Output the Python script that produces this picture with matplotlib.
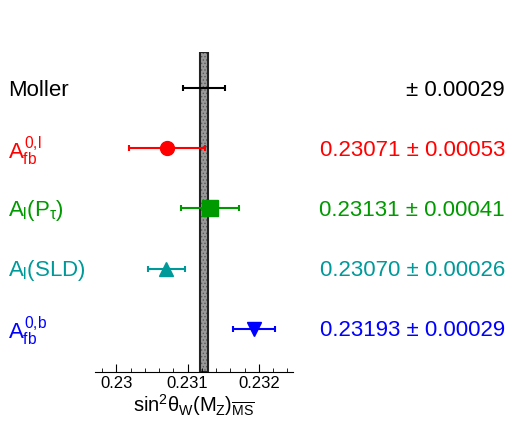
import matplotlib
matplotlib.use("Agg")
from matplotlib import pyplot as plt
from matplotlib import transforms

plt.rcParams['font.family'] = ['Liberation Sans', 'DejaVu Sans']
plt.rcParams['mathtext.fontset'] = 'custom'
plt.rcParams['mathtext.rm'] = 'Liberation Sans'
plt.rcParams['mathtext.it'] = 'Liberation Sans'
plt.rcParams['mathtext.bf'] = 'Liberation Sans:bold'
plt.rcParams['hatch.linewidth'] = 0.6

# Measurements (top to bottom)
labels = ['Moller', r'$A_{fb}^{0{,}l}$', r'$A_l(P_\tau)$', r'$A_l$(SLD)', r'$A_{fb}^{0{,}b}$']
values = [None, 0.23071, 0.23131, 0.23070, 0.23193]
errors = [0.00029, 0.00053, 0.00041, 0.00026, 0.00029]
value_text = ['\u00b1 0.00029', '0.23071 \u00b1 0.00053', '0.23131 \u00b1 0.00041',
              '0.23070 \u00b1 0.00026', '0.23193 \u00b1 0.00029']
colors = ['black', 'red', '#009900', '#009999', 'blue']
markers = [None, 'o', 's', '^', 'v']

# world average band
avg = 0.23123
avg_err = 0.00006

fig = plt.figure(figsize=(5.08, 4.34), dpi=100)
ax = fig.add_axes([0.187, 0.143, 0.39, 0.737])
ax.set_xlim(0.2297, 0.23248)
ax.set_ylim(0.283, 5.6)

ax.axvspan(avg - avg_err, avg + avg_err, facecolor='#9a9a9a', edgecolor='#5a5a5a',
           linewidth=0, hatch='.....', zorder=1)
ax.axvspan(avg - avg_err, avg + avg_err, facecolor='none', edgecolor='#222222',
           linewidth=1.5, zorder=1)

tr = transforms.blended_transform_factory(fig.transFigure, ax.transData)
tr = transforms.offset_copy(tr, fig=fig, x=0, y=-2, units='dots')
n = len(labels)
for i in range(n):
    y = n - i
    x = values[i] if values[i] is not None else avg
    ax.errorbar(x, y, xerr=errors[i], fmt='none', ecolor=colors[i], elinewidth=1.5,
                capsize=2, capthick=1.5, zorder=3)
    if markers[i] is not None:
        ax.plot(x, y, marker=markers[i], color=colors[i], markersize=10 if markers[i] != 's' else 11,
                linestyle='none', zorder=4)
    fig.text(8 / 508, y, labels[i], color=colors[i], fontsize=16, ha='left', va='center',
             transform=tr)
    fig.text(505 / 508, y, value_text[i], color=colors[i], fontsize=16, ha='right',
             va='center', transform=tr)

ax.set_xticks([0.230, 0.231, 0.232])
ax.set_xticklabels(['0.23', '0.231', '0.232'], fontsize=12)
ax.set_xticks([0.2298 + 0.0002 * k for k in range(14) if k % 5 != 1], minor=True)
ax.tick_params(axis='x', which='major', direction='in', length=6, pad=3)
ax.tick_params(axis='x', which='minor', direction='in', length=3)
ax.set_yticks([])
for s in ['top', 'left', 'right']:
    ax.spines[s].set_visible(False)
ax.set_xlabel(r'$\mathrm{sin}^2\theta_W(M_Z)_{\overline{MS}}$', fontsize=14.5, labelpad=1)

fig.savefig('out.png', dpi=100)
